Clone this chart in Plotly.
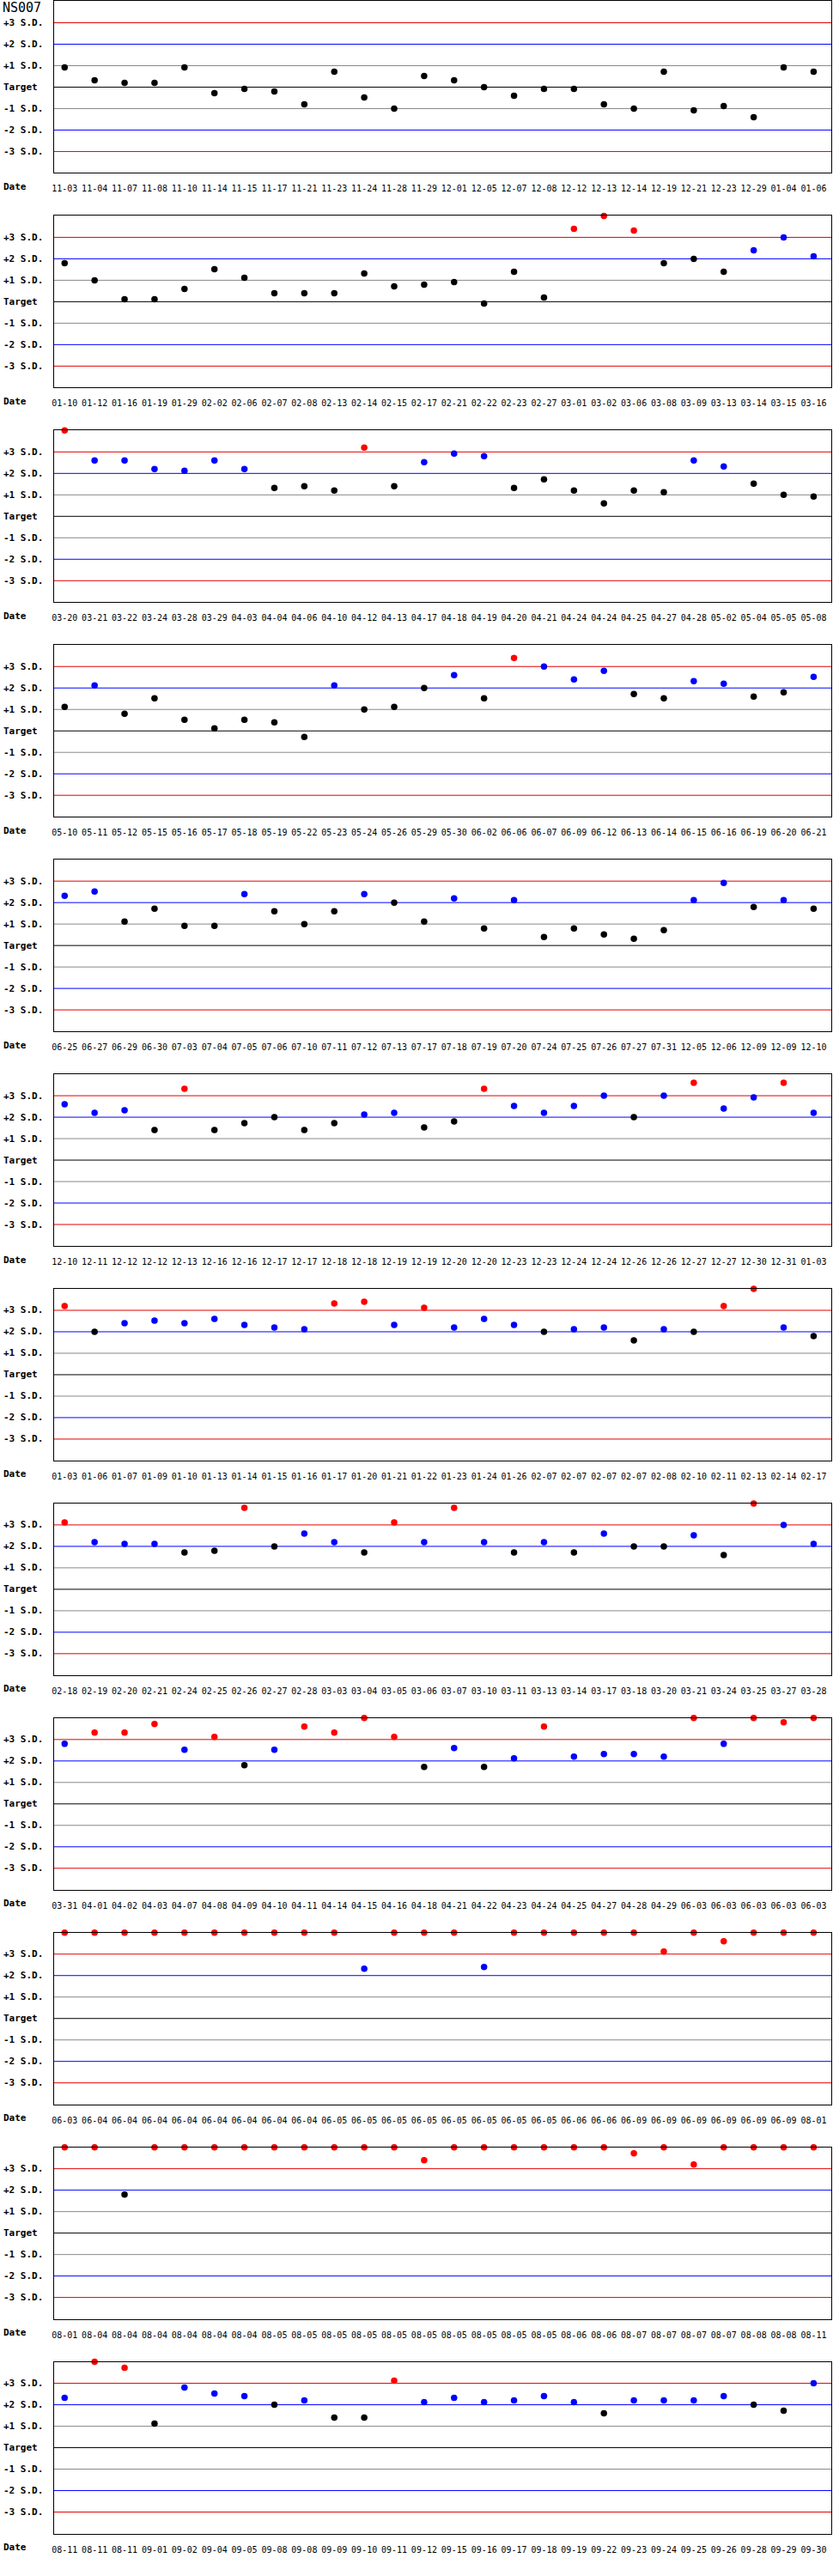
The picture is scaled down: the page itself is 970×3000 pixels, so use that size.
"""
Control chart for NS007: daily results plotted in standard deviations from target.
"""
import plotly.graph_objs as go

TITLE = "NS007"

# Reference lines: (S.D. value, label, colour)
LEVEL_VALUES = [3, 2, 1, 0, -1, -2, -3]
LEVEL_LABELS = ["+3 S.D.", "+2 S.D.", "+1 S.D.", "Target", "-1 S.D.", "-2 S.D.", "-3 S.D."]
LEVEL_COLORS = ["#e00000", "#0000ff", "#888888", "#000000", "#888888", "#0000ff", "#e00000"]

# Each panel: dates (MM-DD) and value in S.D. from target (4 = off the top of the chart)
DATES_01 = ["11-03", "11-04", "11-07", "11-08", "11-10", "11-14", "11-15", "11-17", "11-21", "11-23",
            "11-24", "11-28", "11-29", "12-01", "12-05", "12-07", "12-08", "12-12", "12-13", "12-14",
            "12-19", "12-21", "12-23", "12-29", "01-04", "01-06"]
SD_01 = [0.92, 0.32, 0.20, 0.20, 0.92, -0.28, -0.08, -0.20, -0.80, 0.72,
         -0.48, -1.00, 0.52, 0.32, 0.00, -0.40, -0.08, -0.08, -0.80, -1.00,
         0.72, -1.08, -0.88, -1.40, 0.92, 0.72]

DATES_02 = ["01-10", "01-12", "01-16", "01-19", "01-29", "02-02", "02-06", "02-07", "02-08", "02-13",
            "02-14", "02-15", "02-17", "02-21", "02-22", "02-23", "02-27", "03-01", "03-02", "03-06",
            "03-08", "03-09", "03-13", "03-14", "03-15", "03-16"]
SD_02 = [1.80, 1.00, 0.12, 0.12, 0.60, 1.52, 1.12, 0.40, 0.40, 0.40,
         1.32, 0.72, 0.80, 0.92, -0.08, 1.40, 0.20, 3.40, 4.00, 3.32,
         1.80, 2.00, 1.40, 2.40, 3.00, 2.12]

DATES_03 = ["03-20", "03-21", "03-22", "03-24", "03-28", "03-29", "04-03", "04-04", "04-06", "04-10",
            "04-12", "04-13", "04-17", "04-18", "04-19", "04-20", "04-21", "04-24", "04-24", "04-25",
            "04-27", "04-28", "05-02", "05-04", "05-05", "05-08"]
SD_03 = [4.00, 2.60, 2.60, 2.20, 2.12, 2.60, 2.20, 1.32, 1.40, 1.20,
         3.20, 1.40, 2.52, 2.92, 2.80, 1.32, 1.72, 1.20, 0.60, 1.20,
         1.12, 2.60, 2.32, 1.52, 1.00, 0.92]

DATES_04 = ["05-10", "05-11", "05-12", "05-15", "05-16", "05-17", "05-18", "05-19", "05-22", "05-23",
            "05-24", "05-26", "05-29", "05-30", "06-02", "06-06", "06-07", "06-09", "06-12", "06-13",
            "06-14", "06-15", "06-16", "06-19", "06-20", "06-21"]
SD_04 = [1.12, 2.12, 0.80, 1.52, 0.52, 0.12, 0.52, 0.40, -0.28, 2.12,
         1.00, 1.12, 2.00, 2.60, 1.52, 3.40, 3.00, 2.40, 2.80, 1.72,
         1.52, 2.32, 2.20, 1.60, 1.80, 2.52]

DATES_05 = ["06-25", "06-27", "06-29", "06-30", "07-03", "07-04", "07-05", "07-06", "07-10", "07-11",
            "07-12", "07-13", "07-17", "07-18", "07-19", "07-20", "07-24", "07-25", "07-26", "07-27",
            "07-31", "12-05", "12-06", "12-09", "12-09", "12-10"]
SD_05 = [2.32, 2.52, 1.12, 1.72, 0.92, 0.92, 2.40, 1.60, 1.00, 1.60,
         2.40, 2.00, 1.12, 2.20, 0.80, 2.12, 0.40, 0.80, 0.52, 0.32,
         0.72, 2.12, 2.92, 1.80, 2.12, 1.72]

DATES_06 = ["12-10", "12-11", "12-12", "12-12", "12-13", "12-16", "12-16", "12-17", "12-17", "12-18",
            "12-18", "12-19", "12-19", "12-20", "12-20", "12-23", "12-23", "12-24", "12-24", "12-26",
            "12-26", "12-27", "12-27", "12-30", "12-31", "01-03"]
SD_06 = [2.60, 2.20, 2.32, 1.40, 3.32, 1.40, 1.72, 2.00, 1.40, 1.72,
         2.12, 2.20, 1.52, 1.80, 3.32, 2.52, 2.20, 2.52, 3.00, 2.00,
         3.00, 3.60, 2.40, 2.92, 3.60, 2.20]

DATES_07 = ["01-03", "01-06", "01-07", "01-09", "01-10", "01-13", "01-14", "01-15", "01-16", "01-17",
            "01-20", "01-21", "01-22", "01-23", "01-24", "01-26", "02-07", "02-07", "02-07", "02-07",
            "02-08", "02-10", "02-11", "02-13", "02-14", "02-17"]
SD_07 = [3.20, 2.00, 2.40, 2.52, 2.40, 2.60, 2.32, 2.20, 2.12, 3.32,
         3.40, 2.32, 3.12, 2.20, 2.60, 2.32, 2.00, 2.12, 2.20, 1.60,
         2.12, 2.00, 3.20, 4.00, 2.20, 1.80]

DATES_08 = ["02-18", "02-19", "02-20", "02-21", "02-24", "02-25", "02-26", "02-27", "02-28", "03-03",
            "03-04", "03-05", "03-06", "03-07", "03-10", "03-11", "03-13", "03-14", "03-17", "03-18",
            "03-20", "03-21", "03-24", "03-25", "03-27", "03-28"]
SD_08 = [3.12, 2.20, 2.12, 2.12, 1.72, 1.80, 3.80, 2.00, 2.60, 2.20,
         1.72, 3.12, 2.20, 3.80, 2.20, 1.72, 2.20, 1.72, 2.60, 2.00,
         2.00, 2.52, 1.60, 4.00, 3.00, 2.12]

DATES_09 = ["03-31", "04-01", "04-02", "04-03", "04-07", "04-08", "04-09", "04-10", "04-11", "04-14",
            "04-15", "04-16", "04-18", "04-21", "04-22", "04-23", "04-24", "04-25", "04-27", "04-28",
            "04-29", "06-03", "06-03", "06-03", "06-03", "06-03"]
SD_09 = [2.80, 3.32, 3.32, 3.72, 2.52, 3.12, 1.80, 2.52, 3.60, 3.32,
         4.00, 3.12, 1.72, 2.60, 1.72, 2.12, 3.60, 2.20, 2.32, 2.32,
         2.20, 4.00, 2.80, 4.00, 3.80, 4.00]

DATES_10 = ["06-03", "06-04", "06-04", "06-04", "06-04", "06-04", "06-04", "06-04", "06-04", "06-05",
            "06-05", "06-05", "06-05", "06-05", "06-05", "06-05", "06-05", "06-06", "06-06", "06-09",
            "06-09", "06-09", "06-09", "06-09", "06-09", "08-01"]
SD_10 = [4.00, 4.00, 4.00, 4.00, 4.00, 4.00, 4.00, 4.00, 4.00, 4.00,
         2.32, 4.00, 4.00, 4.00, 2.40, 4.00, 4.00, 4.00, 4.00, 4.00,
         3.12, 4.00, 3.60, 4.00, 4.00, 4.00]

DATES_11 = ["08-01", "08-04", "08-04", "08-04", "08-04", "08-04", "08-04", "08-05", "08-05", "08-05",
            "08-05", "08-05", "08-05", "08-05", "08-05", "08-05", "08-05", "08-06", "08-06", "08-07",
            "08-07", "08-07", "08-07", "08-08", "08-08", "08-11"]
SD_11 = [4.00, 4.00, 1.80, 4.00, 4.00, 4.00, 4.00, 4.00, 4.00, 4.00,
         4.00, 4.00, 3.40, 4.00, 4.00, 4.00, 4.00, 4.00, 4.00, 3.72,
         4.00, 3.20, 4.00, 4.00, 4.00, 4.00]

DATES_12 = ["08-11", "08-11", "08-11", "09-01", "09-02", "09-04", "09-05", "09-08", "09-08", "09-09",
            "09-10", "09-11", "09-12", "09-15", "09-16", "09-17", "09-18", "09-19", "09-22", "09-23",
            "09-24", "09-25", "09-26", "09-28", "09-29", "09-30"]
SD_12 = [2.32, 4.00, 3.72, 1.12, 2.80, 2.52, 2.40, 2.00, 2.20, 1.40,
         1.40, 3.12, 2.12, 2.32, 2.12, 2.20, 2.40, 2.12, 1.60, 2.20,
         2.20, 2.20, 2.40, 2.00, 1.72, 3.00]

PANELS = [
    (DATES_01, SD_01), (DATES_02, SD_02), (DATES_03, SD_03), (DATES_04, SD_04),
    (DATES_05, SD_05), (DATES_06, SD_06), (DATES_07, SD_07), (DATES_08, SD_08),
    (DATES_09, SD_09), (DATES_10, SD_10), (DATES_11, SD_11), (DATES_12, SD_12),
]

FONT = "DejaVu Sans Mono"
WIDTH = 970
HEIGHT = 3000
PANEL_STEP = 250   # px between panel tops
PANEL_PLOT = 200   # px height of the plotting frame
PLOT_LEFT = 60
PLOT_RIGHT = 968


def point_color(sd: float) -> str:
    """
    Colour of a point by how far it is from target.
    :param sd: value in standard deviations.
    :return: colour string.
    """
    if sd > 3:
        return "#ff0000"
    if sd > 2:
        return "#0000ff"
    return "#000000"


def axis_suffix(k: int) -> str:
    return "" if k == 1 else str(k)


label_font = dict(family=FONT, size=11, color="black", weight="bold")

fig = go.Figure()
shapes = []
annotations = [
    dict(x=0, y=1, xref="paper", yref="paper", xanchor="left", yanchor="top",
         text=TITLE, showarrow=False, font=dict(family=FONT, size=15, color="black"),
         borderpad=0, xshift=-1, yshift=2),
]

for k, (dates, values) in enumerate(PANELS, start=1):
    sfx = axis_suffix(k)
    xs = list(range(len(dates)))
    fig.add_trace(go.Scatter(
        x=xs, y=values, mode="markers", xaxis=f"x{sfx}", yaxis=f"y{sfx}",
        marker=dict(size=7.5, color=[point_color(v) for v in values], line=dict(width=0)),
        cliponaxis=False, showlegend=False, hoverinfo="skip",
    ))

    # half-pixel offset keeps the 1px reference lines crisp
    top = PANEL_STEP * (k - 1) + 0.5
    domain_y = [1 - (top + PANEL_PLOT) / HEIGHT, 1 - top / HEIGHT]
    fig.layout[f"xaxis{sfx}"] = dict(
        domain=[PLOT_LEFT / WIDTH, PLOT_RIGHT / WIDTH], anchor=f"y{sfx}",
        range=[-0.357, 25.59], tickmode="array", tickvals=xs, ticktext=dates,
        tickfont=dict(family=FONT, size=10, color="black"), ticks="", ticklabelstandoff=9,
        showgrid=False, zeroline=False, showline=True, mirror=True,
        linecolor="black", linewidth=1, fixedrange=True,
    )
    fig.layout[f"yaxis{sfx}"] = dict(
        domain=domain_y, anchor=f"x{sfx}", range=[-4, 4],
        showticklabels=False, ticks="", showgrid=False, zeroline=False,
        showline=True, mirror=True, linecolor="black", linewidth=1, fixedrange=True,
    )

    for level, label, color in zip(LEVEL_VALUES, LEVEL_LABELS, LEVEL_COLORS):
        shapes.append(dict(type="line", xref=f"x{sfx} domain", x0=0, x1=1,
                           yref=f"y{sfx}", y0=level, y1=level, layer="below",
                           line=dict(color=color, width=1)))
        annotations.append(dict(x=0, xref="paper", xanchor="left", y=level, yref=f"y{sfx}",
                                yanchor="middle", text=label, showarrow=False, borderpad=0,
                                font=label_font))
    annotations.append(dict(x=0, xref="paper", xanchor="left", y=-16 / PANEL_PLOT,
                            yref=f"y{sfx} domain", yanchor="middle", text="Date",
                            showarrow=False, borderpad=0, font=label_font))

fig.update_layout(
    width=WIDTH, height=HEIGHT,
    margin=dict(l=0, r=0, t=0, b=0),
    paper_bgcolor="white", plot_bgcolor="white",
    shapes=shapes, annotations=annotations,
    showlegend=False,
)

# the page's default body margin would push the chart 8px right and down
fig.write_html("out.html", config={"displayModeBar": False},
               post_script="document.body.style.margin = '0';")
